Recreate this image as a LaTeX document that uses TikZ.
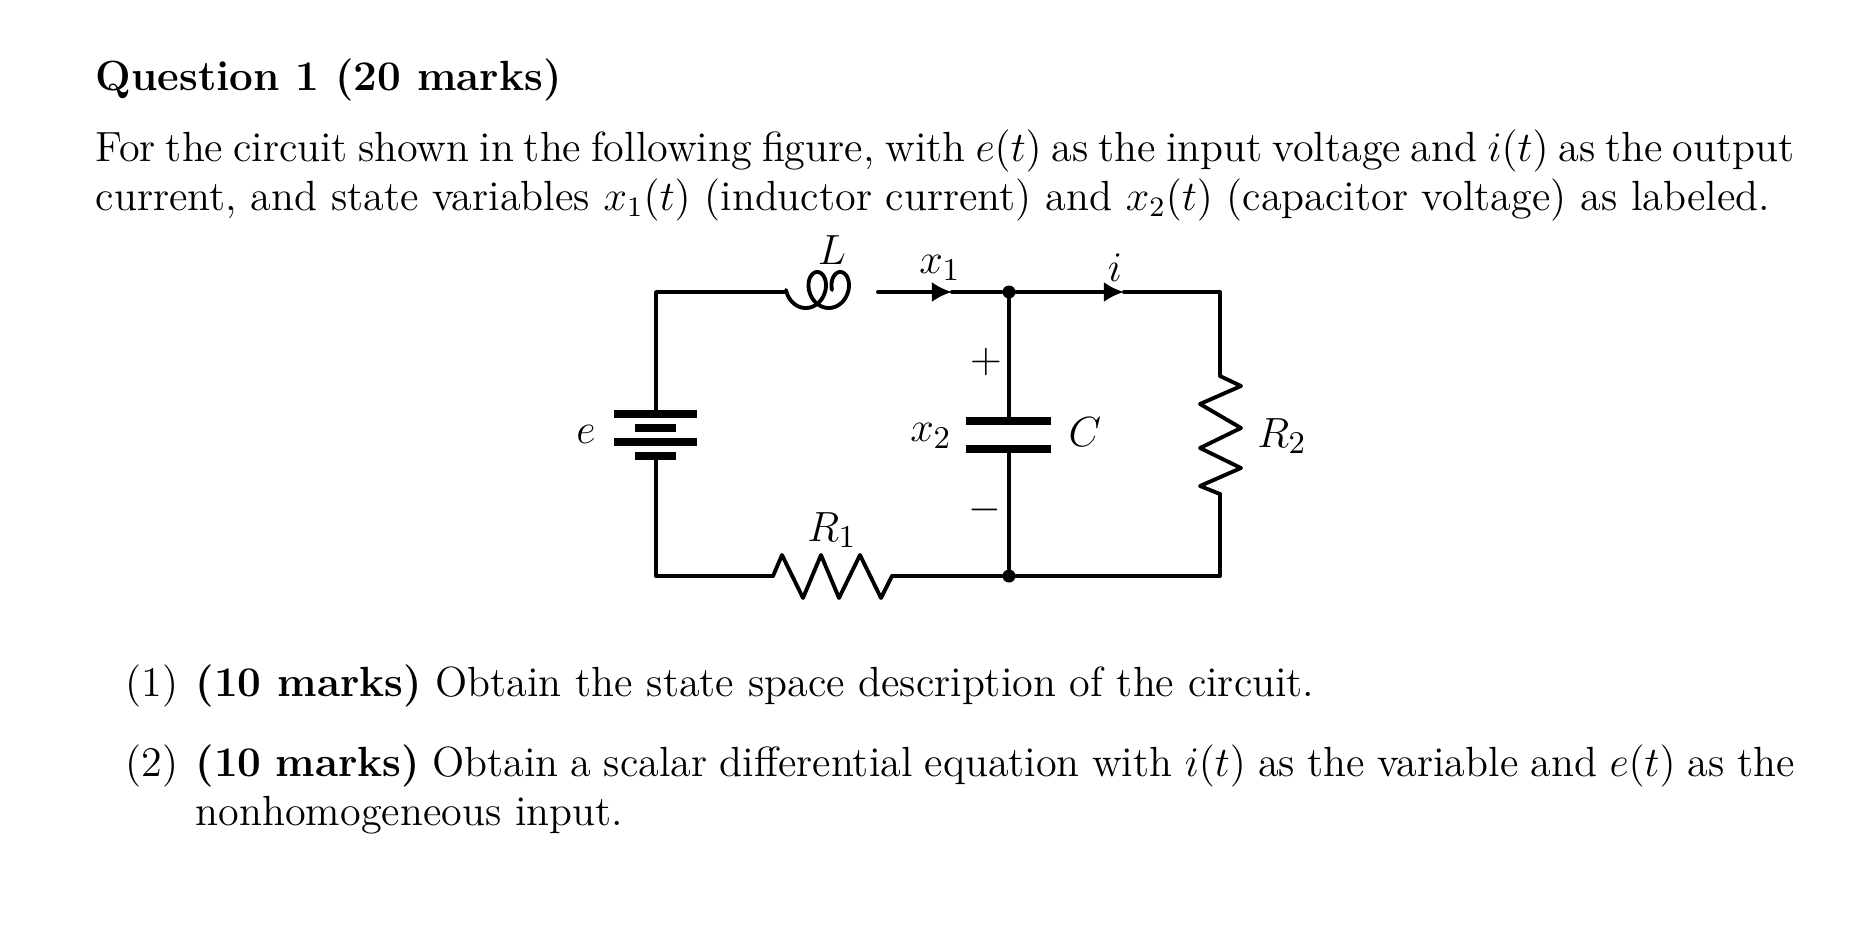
\documentclass[tikz,border=0pt]{standalone}
\usepackage{amsmath}
\usetikzlibrary{arrows.meta}
\begin{document}
\begin{tikzpicture}[x=0.01cm,y=-0.01cm,
    wire/.style={line width=1.1pt, line cap=round, line join=round},
    plate/.style={line width=2.2pt},
    junction/.style={circle, fill=black, inner sep=0pt, minimum size=0.13cm},
    txt/.style={anchor=base west, inner sep=0pt, font=\fontsize{12}{14}\selectfont},
    lbl/.style={inner sep=0pt, font=\fontsize{13}{15}\selectfont},
    ]
\useasboundingbox (0,0) rectangle (1862,936);

% text
\node[txt] (title) at (95,90) {\bfseries Question 1 (20 marks)};
\node[txt, text width=16.98cm, align=justify] (para) at (95,161)
  {For the circuit shown in the following figure, with $e(t)$ as the input voltage and $i(t)$ as the output\linebreak
   current, and state variables $x_1(t)$ (inductor current) and $x_2(t)$ (capacitor voltage) as labeled.};
\node[txt] (n1) at (125,696) {(1)};
\node[txt] (q1) at (195,696) {\bfseries (10 marks)\mdseries{} Obtain the state space description of the circuit.};
\node[txt] (n2) at (125,776) {(2)};
\node[txt, text width=15.98cm, align=justify] (q2) at (195,776)
  {\bfseries (10 marks)\mdseries{} Obtain a scalar differential equation with $i(t)$ as the variable and $e(t)$ as the\linebreak
   nonhomogeneous input.};

% circuit corners
\coordinate (tl) at (656,292);
\coordinate (bl) at (656,576);
\coordinate (tr) at (1220,292);
\coordinate (br) at (1220,576);
\node[junction] (top) at (1009,292) {};
\node[junction] (bot) at (1009,576) {};
\coordinate (Lin) at (786,292);
\coordinate (Lout) at (878,292);
\coordinate (Ein) at (656,414);
\coordinate (Eout) at (656,456);
\coordinate (Cin) at (1009,421);
\coordinate (Cout) at (1009,449);
\coordinate (R2in) at (1220,376);
\coordinate (R2out) at (1220,494);
\coordinate (R1in) at (773,576);
\coordinate (R1out) at (892,576);

% wires
\draw[wire] (Ein) -- (tl) -- (Lin);
\draw[wire, -{Latex[length=0.2cm,width=0.2cm]}] (Lout) -- (952,292);
\draw[wire] (952,292) -- (top);
\draw[wire, -{Latex[length=0.2cm,width=0.2cm]}] (top) -- (1124,292);
\draw[wire] (1124,292) -- (tr) -- (R2in);
\draw[wire] (R2out) -- (br) -- (bot) -- (R1out);
\draw[wire] (R1in) -- (bl) -- (Eout);
\draw[wire] (top) -- (Cin);
\draw[wire] (Cout) -- (bot);

% inductor
\draw[wire] plot[domain=90:810, samples=240, smooth]
  ({786 + 3.66*(\x-90)*pi/180 - 14*sin(\x) + 14}, {290 - 18*cos(\x)});

% battery
\draw[plate] (614,414) -- (697,414);
\draw[plate] (635,428) -- (676,428);
\draw[plate] (614,442) -- (697,442);
\draw[plate] (635,456) -- (676,456);

% capacitor
\draw[plate] (966,421) -- (1051,421);
\draw[plate] (966,449) -- (1051,449);

% resistors
\draw[wire] (R2in) -- (1241,386) -- (1200,404) -- (1241,428) -- (1200,448)
  -- (1241,468) -- (1200,486) -- (R2out);
\draw[wire] (R1in) -- (782,555) -- (803,598) -- (821,555) -- (839,598)
  -- (860,555) -- (881,598) -- (R1out);

% labels
\node[lbl] (Llbl) at (832,250) {$L$};
\node[lbl] (x1lbl) at (940,268) {$x_1$};
\node[lbl] (ilbl) at (1115,268) {$i$};
\node[lbl] (plus) at (986,362) {$+$};
\node[lbl] (minus) at (985,510) {$-$};
\node[lbl] (x2lbl) at (931,436) {$x_2$};
\node[lbl] (Clbl) at (1085,432) {$C$};
\node[lbl] (elbl) at (586,434) {$e$};
\node[lbl] (R2lbl) at (1282,436) {$R_2$};
\node[lbl] (R1lbl) at (832,530) {$R_1$};
\end{tikzpicture}
\end{document}
